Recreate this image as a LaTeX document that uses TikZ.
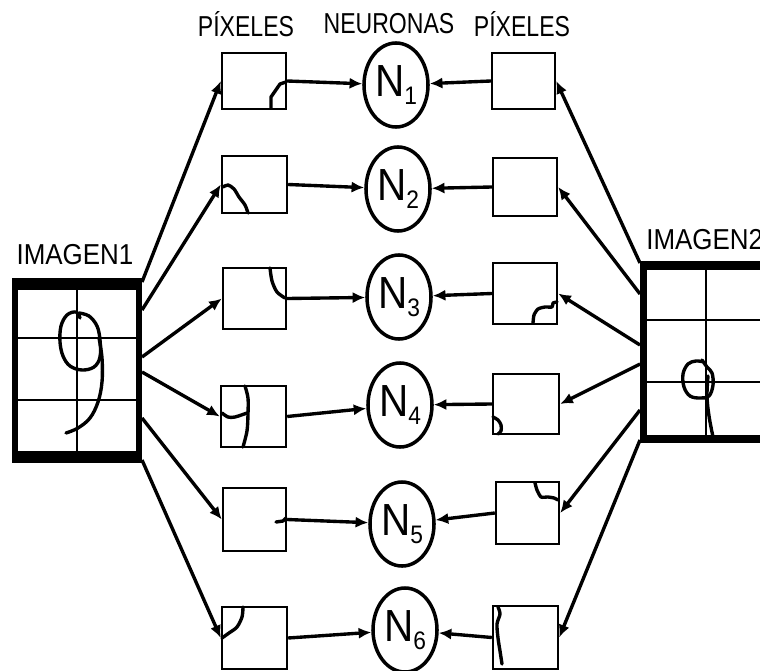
\documentclass[tikz,border=0pt]{standalone}
\usepackage{fontspec}
\setmainfont{Liberation Sans}[FakeStretch=0.9]
\newfontfamily\headfont{Liberation Sans}[FakeStretch=0.8]
\usetikzlibrary{arrows.meta,shapes.geometric,fit}

\newcommand{\neu}[1]{{\fontsize{32}{32}\selectfont N\raisebox{-0.17em}{\fontsize{18}{18}\selectfont #1}}}

\begin{document}
\begin{tikzpicture}[x=0.025cm,y=-0.025cm,
  pixbox/.style={draw, line width=1.7pt, inner sep=0pt, fit={#1}},
  neuron/.style={ellipse, draw, line width=2.5pt, minimum width=1.6cm,
                 minimum height=2.1cm, inner sep=0pt},
  arr/.style={line width=2.4pt, -{Latex[length=9pt,width=8pt]}},
  ink/.style={line width=2.4pt, line cap=round, line join=round},
  gridline/.style={line width=1.5pt},
  head/.style={font=\headfont\fontsize{20.5}{24}\selectfont, inner sep=0pt},
  imglabel/.style={font=\fontsize{20.5}{24}\selectfont, inner sep=0pt},
]
\useasboundingbox (0,0) rectangle (760,670);
\clip (0,0) rectangle (760,670);

% column headings
\node[head] (h1) at (246,24) {PÍXELES};
\node[head] (h2) at (389,24) {NEURONAS};
\node[head] (h3) at (522,24) {PÍXELES};
\node[imglabel] (i1) at (75,255) {IMAGEN1};
\node[imglabel, anchor=west] (i2) at (646,240) {IMAGEN2};

% first image: thick frame with 2x3 grid
\fill (12,278) rectangle (142,463);
\fill[white] (18,290) rectangle (136,451);
\draw[gridline] (77,290) -- (77,451);
\draw[gridline] (18,338) -- (136,338);
\draw[gridline] (18,400) -- (136,400);
\draw[ink] plot[smooth, tension=0.6] coordinates {(80,318) (76,312) (67,315) (61,326) (60,342) (63,356) (70,366) (82,370) (94,367) (100,357) (100,340) (97,326) (89,316) (79,313)};
\draw[ink] plot[smooth, tension=0.6] coordinates {(99,338) (102,358) (102,382) (98,402) (90,418) (78,428) (66,433)};

% second image
\fill (640,261) rectangle (790,443);
\fill[white] (647,270) rectangle (790,435);
\draw[gridline] (706,270) -- (706,435);
\draw[gridline] (647,320) -- (790,320);
\draw[gridline] (647,382) -- (790,382);
\draw[ink] plot[smooth, tension=0.6] coordinates {(704,362) (696,361) (688,364) (683,374) (684,387) (690,396) (700,398) (709,396) (713,385) (712,373) (707,367) (702,360)};
\draw[ink] plot[smooth, tension=0.6] coordinates {(708,376) (707,396) (709,416) (713,437)};

% pixel boxes, left column
\node[pixbox={(222,53) (286,109)}] (L1) {};
\node[pixbox={(222,156) (287,213)}] (L2) {};
\node[pixbox={(223,268) (286,329)}] (L3) {};
\node[pixbox={(221,386) (286,447)}] (L4) {};
\node[pixbox={(223,488) (286,551)}] (L5) {};
\node[pixbox={(222,607) (287,669)}] (L6) {};

% pixel boxes, right column
\node[pixbox={(492,53) (555,109)}] (R1) {};
\node[pixbox={(493,158) (557,216)}] (R2) {};
\node[pixbox={(493,263) (557,324)}] (R3) {};
\node[pixbox={(493,374) (559,434)}] (R4) {};
\node[pixbox={(496,482) (559,544)}] (R5) {};
\node[pixbox={(493,606) (558,669)}] (R6) {};

% pen strokes seen through each box
\draw[ink] (271,108) -- (271,97) -- (280,84) -- (286,82);
\draw[ink] plot[smooth] coordinates {(223,187) (228,185) (234,189) (239,197) (245,205) (248,213)};
\draw[ink] plot[smooth] coordinates {(270,268) (272,281) (277,292) (285,298)};
\draw[ink] plot[smooth] coordinates {(245,386) (248,398) (248,414) (247,431) (243,447)};
\draw[ink] plot[smooth] coordinates {(222,413) (228,417) (235,417) (247,413)};
\draw[ink] (276,522) -- (283,521) -- (286,518);
\draw[ink] plot[smooth] coordinates {(243,607) (242,617) (237,627) (229,633) (222,638)};
\draw[ink] plot[smooth, tension=0.4] coordinates {(533,323) (534,315) (538,309) (545,307) (552,307) (553,303) (557,302)};
\draw[ink] plot[smooth] coordinates {(493,417) (498,420) (501,425) (501,431) (498,434)};
\draw[ink] plot[smooth, tension=0.4] coordinates {(535,483) (537,490) (541,497) (548,497) (554,498) (558,500)};
\draw[ink] plot[smooth] coordinates {(498,607) (500,614) (497,624) (498,638) (500,651) (502,664)};

% neurons
\node[neuron] (N1) at (396,85) {\neu{1}};
\node[neuron] (N2) at (398,189) {\neu{2}};
\node[neuron] (N3) at (399,297) {\neu{3}};
\node[neuron] (N4) at (400,405) {\neu{4}};
\node[neuron] (N5) at (402,524) {\neu{5}};
\node[neuron] (N6) at (405,630) {\neu{6}};

% pixels feeding the neurons
\foreach \i in {1,...,6} {
  \draw[arr] (L\i.east) -- (N\i);
  \draw[arr] (R\i.west) -- (N\i);
}

% fan-out from the first image
\coordinate (s1) at (142,282);
\coordinate (s2) at (142,310);
\coordinate (s3) at (142,357);
\coordinate (s4) at (142,372);
\coordinate (s5) at (142,418);
\coordinate (s6) at (142,460);
% fan-out from the second image
\coordinate (t1) at (640,263);
\coordinate (t2) at (640,294);
\coordinate (t3) at (640,345);
\coordinate (t4) at (640,364);
\coordinate (t5) at (640,410);
\coordinate (t6) at (640,440);
\foreach \i in {1,...,6} {
  \draw[arr] (s\i) -- (L\i.west);
  \draw[arr] (t\i) -- (R\i.east);
}
\end{tikzpicture}
\end{document}
